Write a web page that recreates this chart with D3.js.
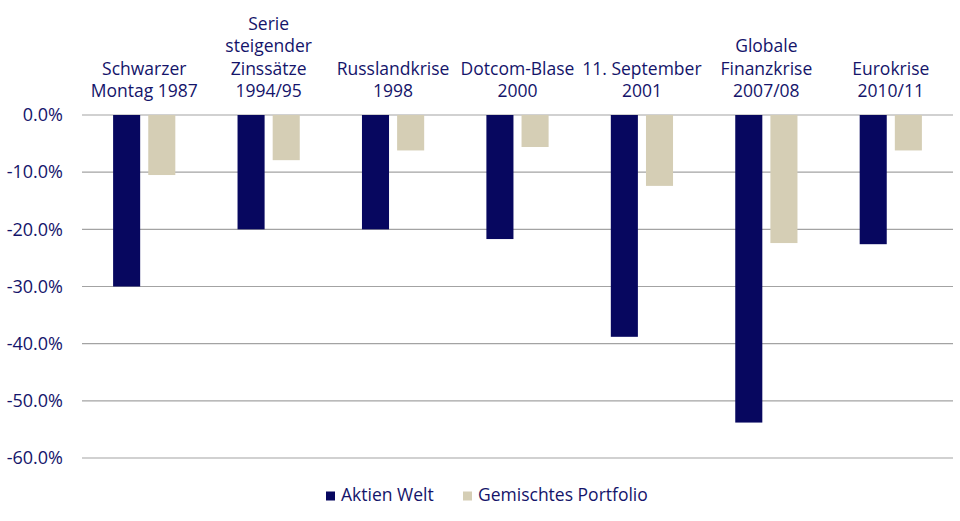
<!DOCTYPE html>
<html>
<head>
<meta charset="utf-8">
<script src="https://cdn.jsdelivr.net/npm/d3@7"></script>
<style>
  body { margin: 0; background: #fff; }
  text { font-family: "Open Sans", sans-serif; fill: #14146a; }
</style>
</head>
<body>
<div id="chart"></div>
<script>
const categories = [
    ["Schwarzer", "Montag 1987"],
    ["Serie", "steigender", "Zinssätze", "1994/95"],
    ["Russlandkrise", "1998"],
    ["Dotcom-Blase", "2000"],
    ["11. September", "2001"],
    ["Globale", "Finanzkrise", "2007/08"],
    ["Eurokrise", "2010/11"]
];
const seriesNames = ["Aktien Welt", "Gemischtes Portfolio"];
const aktienWelt = [-30.0, -20.0, -20.0, -21.7, -38.8, -53.8, -22.6];
const gemischt = [-10.5, -7.9, -6.2, -5.6, -12.4, -22.4, -6.2];
const yTicks = [0, -10, -20, -30, -40, -50, -60];
const colors = ["#07075f", "#d5ceb5"];

const drawChart = (divId) => {
    const width = 960, height = 521;
    const margin = {top: 115, right: 7, bottom: 63, left: 82};

    const svg = d3.select(divId)
        .append("svg")
            .attr("width", width)
            .attr("height", height);

    const g = svg.append("g")
        .attr("transform", "translate(" + margin.left + "," + margin.top + ")");

    const innerW = width - margin.left - margin.right;

    const data = categories.map((c, i) => ({
        label: c, values: [aktienWelt[i], gemischt[i]]
    }));

    const x = d3.scaleBand()
        .domain(d3.range(categories.length))
        .range([0, innerW])
        .paddingInner(0)
        .paddingOuter(0);

    const xSub = d3.scaleBand()
        .domain([0, 1])
        .range([x.bandwidth() * 0.25, x.bandwidth() * 0.75])
        .paddingInner(0.23)
        .paddingOuter(0);

    const y = d3.scaleLinear()
        .domain([0, -60])
        .range([0, 343]);

    // gridlines
    g.selectAll(".grid")
        .data(yTicks)
        .join("line")
            .attr("class", "grid")
            .attr("x1", 0)
            .attr("x2", innerW)
            .attr("y1", d => y(d))
            .attr("y2", d => y(d))
            .attr("stroke", "#a3a3a3")
            .attr("stroke-width", 1.2);

    const yAxis = g.append("g")
        .call(d3.axisLeft(y).tickValues(yTicks).tickSize(0).tickPadding(19)
            .tickFormat(d => d.toFixed(1) + "%"));
    yAxis.select(".domain").remove();
    yAxis.selectAll("text")
        .style("font-family", "Open Sans")
        .style("font-size", "18px")
        .attr("fill", "#14146a");

    const groups = g.selectAll(".group")
        .data(data)
        .join("g")
            .attr("class", "group")
            .attr("transform", (d, i) => "translate(" + x(i) + ",0)");

    groups.selectAll("rect")
        .data(d => d.values)
        .join("rect")
            .attr("x", (d, j) => xSub(j))
            .attr("y", y(0))
            .attr("width", xSub.bandwidth())
            .attr("height", d => y(d) - y(0))
            .attr("fill", (d, j) => colors[j]);

    // category labels, bottom line sits just above the zero line
    groups.each(function(d) {
        const lines = d.label;
        const t = d3.select(this).append("text")
            .attr("text-anchor", "middle")
            .style("font-size", "17.5px");
        lines.forEach((line, k) => {
            t.append("tspan")
                .attr("x", x.bandwidth() / 2)
                .attr("y", -18 - (lines.length - 1 - k) * 22.5)
                .text(line);
        });
    });

    // legend
    const legend = svg.append("g")
        .attr("transform", "translate(326,496)");
    const legendX = [0, 137];
    seriesNames.forEach((name, i) => {
        legend.append("rect")
            .attr("x", legendX[i])
            .attr("y", -4.5)
            .attr("width", 9)
            .attr("height", 9)
            .attr("fill", colors[i]);
        legend.append("text")
            .attr("x", legendX[i] + 15)
            .attr("y", 0)
            .attr("dominant-baseline", "middle")
            .style("font-size", "17.5px")
            .text(name);
    });
};

drawChart("#chart");
</script>
</body>
</html>
